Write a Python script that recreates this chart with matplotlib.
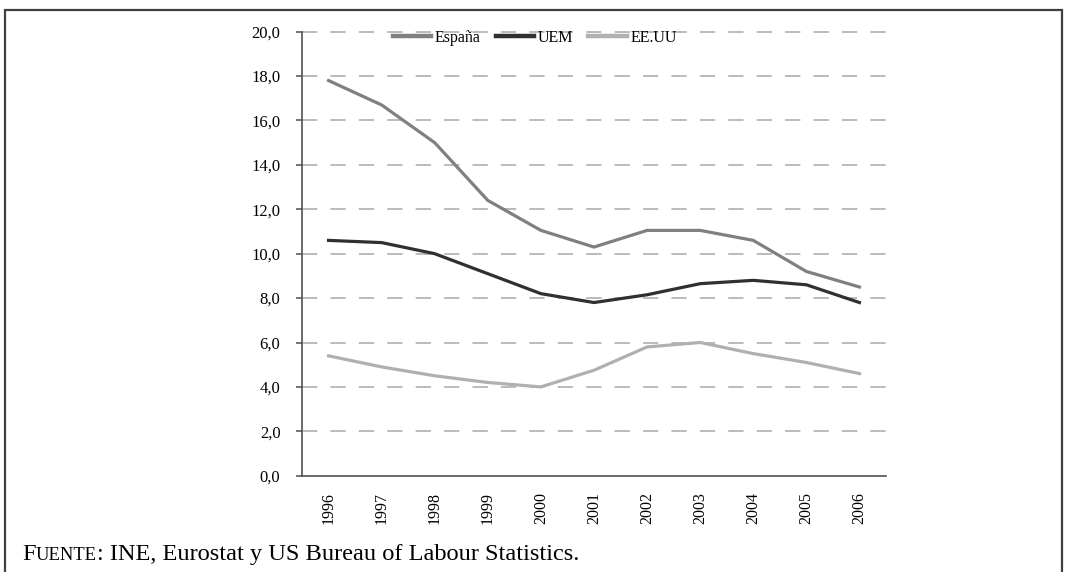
import matplotlib
matplotlib.use("Agg")
import matplotlib.pyplot as plt
from matplotlib.patches import Rectangle

years = ["1996", "1997", "1998", "1999", "2000", "2001", "2002", "2003", "2004", "2005", "2006"]
espana = [17.8, 16.7, 15.0, 12.4, 11.05, 10.3, 11.05, 11.05, 10.6, 9.2, 8.5]
uem = [10.6, 10.5, 10.0, 9.1, 8.2, 7.8, 8.15, 8.65, 8.8, 8.6, 7.8]
eeuu = [5.4, 4.9, 4.5, 4.2, 4.0, 4.75, 5.8, 6.0, 5.5, 5.1, 4.6]
yticks = [0, 2, 4, 6, 8, 10, 12, 14, 16, 18, 20]
source_lead = "F"
source_caps = "UENTE"
source_rest = ": INE, Eurostat y US Bureau of Labour Statistics."

plt.rcParams['font.family'] = ['Liberation Serif', 'DejaVu Serif']

fig = plt.figure(figsize=(10.65, 5.72), dpi=100)
ax = fig.add_axes([302/1065, 1-475.7/572, (886-302)/1065, (475.7-31.7)/572])

x = list(range(len(years)))
ax.plot(x, espana, color="#808080", lw=2.3, label="España", solid_joinstyle="round", zorder=3)
ax.plot(x, uem, color="#303030", lw=2.3, label="UEM", solid_joinstyle="round", zorder=3)
ax.plot(x, eeuu, color="#b0b0b0", lw=2.3, label="EE.UU", solid_joinstyle="round", zorder=3)

ax.set_xlim(-0.5, len(years) - 0.5)
ax.set_ylim(0, 20)
ax.set_yticks(yticks)
ax.set_yticklabels([f"{v:.1f}".replace(".", ",") for v in yticks], fontsize=12)
ax.set_xticks(x)
ax.set_xticklabels(years, rotation=90, fontsize=11.5)
ax.tick_params(axis='x', length=0, pad=12)
ax.tick_params(axis='y', length=4.5, width=1.1, color="#505050", pad=11)

for v in yticks[1:]:
    ax.axhline(v, color="#a8a8a8", lw=1.1, linestyle=(0, (10, 8.6)), zorder=1, clip_on=False)

for s in ["top", "right"]:
    ax.spines[s].set_visible(False)
for s in ["left", "bottom"]:
    ax.spines[s].set_color("#505050")
    ax.spines[s].set_linewidth(1.2)

leg = fig.legend(loc="center left", bbox_to_anchor=(393/1065, 1-38/572),
                 ncol=3, frameon=False, fontsize=11.5, handlelength=2.4,
                 handletextpad=0.22, columnspacing=0.95, borderpad=0, borderaxespad=0)
for h in leg.get_lines():
    h.set_linewidth(3.2)

# frame
fig.add_artist(Rectangle((5/1065, -0.1), (1062-5)/1065, 1-10/572+0.1,
                         transform=fig.transFigure, fill=False,
                         edgecolor="#404040", lw=1.6, clip_on=False))

# source text with small caps
fig.canvas.draw()
r = fig.canvas.get_renderer()
yb = 1 - 560/572
t1 = fig.text(22/1065, yb, source_lead, fontsize=17.6, va="baseline", ha="left")
fig.canvas.draw()
bb = t1.get_window_extent(r)
t2 = fig.text(bb.x1/1065, yb, source_caps, fontsize=13.4, va="baseline", ha="left")
fig.canvas.draw()
bb = t2.get_window_extent(r)
fig.text(bb.x1/1065, yb, source_rest, fontsize=17.6, va="baseline", ha="left")

fig.savefig("out.png", dpi=100)
